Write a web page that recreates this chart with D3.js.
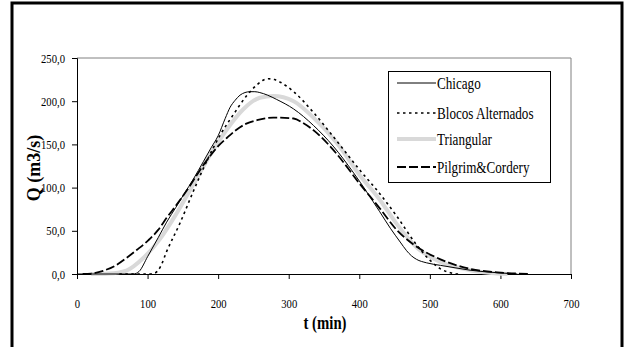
<!DOCTYPE html>
<html>
<head>
<meta charset="utf-8">
<script src="https://cdn.jsdelivr.net/npm/d3@7"></script>
<style>
  html, body { margin: 0; padding: 0; background: #fff; }
  svg { display: block; }
</style>
</head>
<body>
<svg id="chart" width="629" height="347" font-family="'Liberation Serif', serif"></svg>
<script>
// ---- Data ----
const seriesNames = ["Chicago", "Blocos Alternados", "Triangular", "Pilgrim&Cordery"];

const chicagoT = [0, 80, 88, 100, 115, 127, 140, 152, 165, 179, 190, 200, 210, 217, 224, 231, 238, 245, 252, 259, 270, 283, 307, 335, 363, 392, 429, 444, 458, 467, 474, 481, 495, 515, 537, 557, 595, 624];
const chicagoQ = [0, 0, 3, 20, 42, 60, 77, 93, 110, 130, 146, 160, 180, 193, 201, 207, 210, 211, 211, 210, 207, 202, 191, 172, 148, 117, 72, 53, 37, 27, 21, 17, 13, 10, 7, 4.4, 1.5, 0];

const blocosT = [60, 100, 110, 118, 127, 146, 165, 184, 203, 222, 240, 255, 263, 271, 280, 288, 307, 335, 368, 401, 429, 453, 481, 500, 515, 529, 540];
const blocosQ = [0, 0, 1, 8, 26, 59, 96, 131, 161, 185, 206, 219, 224, 226, 225, 222, 211, 187, 154, 120, 93, 67, 34, 16, 6, 1.5, 0];

const triangT = [20, 45, 70, 94, 118, 141, 165, 188, 212, 236, 259, 278, 307, 335, 368, 401, 429, 453, 481, 515, 557, 595, 610];
const triangQ = [0, 0.5, 4, 18.5, 41, 70, 104, 137, 167, 191, 204, 206, 200, 181, 152, 114, 86, 58, 31, 14, 4.4, 0.7, 0];

const pilgrimT = [8, 20, 37, 55, 70, 85, 101, 115, 127, 141, 155, 167, 179, 190, 200, 213, 226, 240, 255, 278, 307, 320, 340, 368, 401, 429, 453, 477, 515, 557, 595, 640];
const pilgrimQ = [0, 0.5, 3.7, 10, 18.5, 28, 39, 51, 65, 80, 96, 111, 126, 138, 148, 158, 167, 174, 178, 181, 180, 175, 163, 139, 104, 76, 51, 34, 17, 6, 2, 0];

const xTicks = [0, 100, 200, 300, 400, 500, 600, 700];
const yTicks = [0, 50, 100, 150, 200, 250];

// ---- Drawing ----
const FONT = "'Liberation Serif', serif";
const svg = d3.select("#chart");
const W = 629, H = 347;
const plot = { left: 77, right: 571, top: 58, bottom: 274 };
const SX = 0.82; // horizontal text compression as in the reference

const x = d3.scaleLinear().domain([0, 700]).range([plot.left, plot.right]);
const y = d3.scaleLinear().domain([0, 250]).range([plot.bottom, plot.top]);

svg.append("rect").attr("width", W).attr("height", H).attr("fill", "#fff");

// outer frame
svg.append("path")
  .attr("d", `M12,${H + 5} L12,3 L622,3 L622,${H + 5}`)
  .attr("fill", "none").attr("stroke", "#000").attr("stroke-width", 3);

// plot area border (top/right grey)
svg.append("path")
  .attr("d", `M${plot.left},${plot.top} L${plot.right},${plot.top} L${plot.right},${plot.bottom}`)
  .attr("fill", "none").attr("stroke", "#808080").attr("stroke-width", 1);

const fmt = d => d3.format(".1f")(d).replace(".", ",");

// y axis
const gy = svg.append("g").attr("transform", `translate(${plot.left},0)`)
  .call(d3.axisLeft(y).tickValues(yTicks).tickSize(5).tickPadding(7).tickFormat(fmt));
gy.attr("font-family", FONT).attr("font-size", 13);
gy.selectAll("text").each(function () {
  const t = d3.select(this);
  const xx = +t.attr("x");
  t.attr("x", 0).attr("transform", `translate(${xx},0) scale(${SX},1)`)
   .attr("font-family", FONT).attr("font-size", 13).attr("fill", "#000");
});

// x axis
const gx = svg.append("g").attr("transform", `translate(0,${plot.bottom})`)
  .call(d3.axisBottom(x).tickValues(xTicks).tickSize(5).tickPadding(20).tickFormat(d3.format("d")));
gx.attr("font-family", FONT).attr("font-size", 13);
gx.selectAll("text").each(function () {
  const t = d3.select(this);
  const yy = +t.attr("y");
  t.attr("y", 0).attr("transform", `translate(0,${yy}) scale(${SX},1)`)
   .attr("font-family", FONT).attr("font-size", 13).attr("fill", "#000");
});

[gx, gy].forEach(g => {
  g.select(".domain").attr("stroke", "#000").attr("stroke-width", 1);
  g.selectAll(".tick line").attr("stroke", "#000");
});

// axis titles
svg.append("text")
  .attr("transform", `translate(325,329) scale(${SX},1)`)
  .attr("text-anchor", "middle").attr("font-family", FONT)
  .attr("font-size", 18).attr("font-weight", "bold")
  .text("t (min)");
svg.append("text")
  .attr("transform", `translate(40,168) rotate(-90)`)
  .attr("text-anchor", "middle").attr("font-family", FONT)
  .attr("font-size", 18).attr("font-weight", "bold")
  .text("Q (m3/s)");

// series
const styles = [
  { stroke: "#000", width: 1, dash: null },
  { stroke: "#000", width: 1.6, dash: "2.5,3.5" },
  { stroke: "#d9d9d9", width: 4, dash: null },
  { stroke: "#000", width: 1.8, dash: "9,3" }
];
const seriesT = [chicagoT, blocosT, triangT, pilgrimT];
const seriesQ = [chicagoQ, blocosQ, triangQ, pilgrimQ];

const line = d3.line().x(d => x(d[0])).y(d => y(d[1])).curve(d3.curveMonotoneX);
const drawOrder = [2, 0, 1, 3];
drawOrder.forEach(i => {
  const pts = seriesT[i].map((t, k) => [t, seriesQ[i][k]]);
  svg.append("path")
    .datum(pts)
    .attr("d", line)
    .attr("fill", "none")
    .attr("stroke", styles[i].stroke)
    .attr("stroke-width", styles[i].width)
    .attr("stroke-dasharray", styles[i].dash)
    .attr("stroke-linejoin", "round");
});

// legend
const lg = svg.append("g");
lg.append("rect").attr("x", 388.5).attr("y", 71.5).attr("width", 162).attr("height", 111)
  .attr("fill", "#fff").attr("stroke", "#000").attr("stroke-width", 1);
const legY = [83, 113, 139, 167];
seriesNames.forEach((name, i) => {
  lg.append("line")
    .attr("x1", 397).attr("x2", 436).attr("y1", legY[i]).attr("y2", legY[i])
    .attr("stroke", styles[i].stroke)
    .attr("stroke-width", styles[i].width)
    .attr("stroke-dasharray", styles[i].dash);
  lg.append("text")
    .attr("transform", `translate(437,${legY[i] + 6}) scale(${SX},1)`)
    .attr("font-family", FONT).attr("font-size", 16).attr("fill", "#000")
    .text(name);
});
</script>
</body>
</html>
